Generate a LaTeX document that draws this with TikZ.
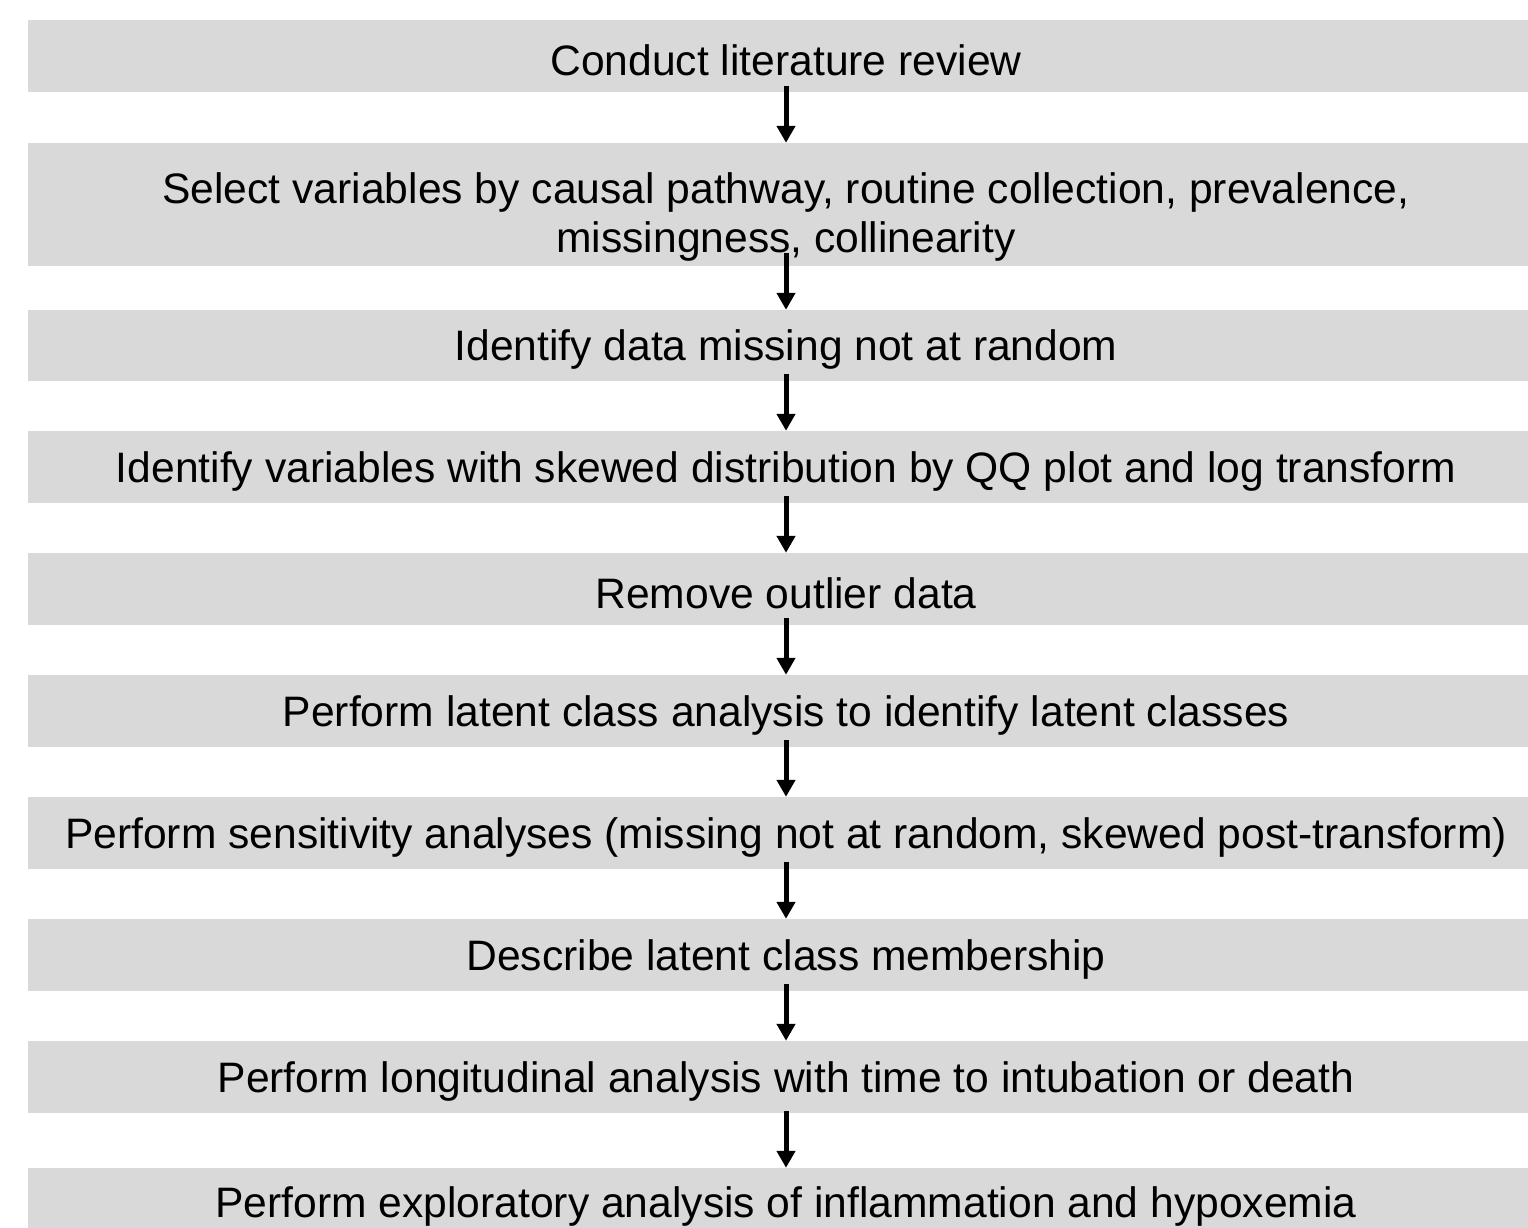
\documentclass[tikz,border=0pt]{standalone}
\usepackage{fontspec}
\setmainfont{Liberation Sans}
\usetikzlibrary{arrows.meta,calc}
\definecolor{boxgray}{RGB}{217,217,217}
\newcommand\lowtxt[2][4pt]{\raisebox{-#1}[\height][\depth]{#2}}
\begin{document}
\begin{tikzpicture}[x=1pt,y=-1pt,
  stepbox/.style={rectangle,fill=boxgray,draw=none,minimum width=1516pt,
    minimum height=72pt,inner sep=0pt,align=center,
    font=\fontsize{42.6}{49}\selectfont},
  arr/.style={-{Triangle[width=18pt,length=17pt]},line width=5pt,black}]
\clip (0,0) rectangle (1528,1227);
\fill[white] (0,0) rectangle (1528,1227);
\node[stepbox] (n1) at (786,56) {\lowtxt{Conduct literature review}};
\node[stepbox,minimum height=123pt] (n2) at (786,204.5) {\lowtxt[14pt]{\begin{tabular}{@{}c@{}}Select variables by causal pathway, routine collection, prevalence,\\missingness, collinearity\end{tabular}}};
\node[stepbox,minimum height=71pt] (n3) at (786,345.5) {\lowtxt{Identify data missing not at random}};
\node[stepbox] (n4) at (786,467) {\lowtxt{Identify variables with skewed distribution by QQ plot and log transform}};
\node[stepbox] (n5) at (786,589) {\lowtxt{Remove outlier data}};
\node[stepbox] (n6) at (786,711) {\lowtxt{Perform latent class analysis to identify latent classes}};
\node[stepbox] (n7) at (786,833) {\lowtxt{Perform sensitivity analyses (missing not at random, skewed post-transform)}};
\node[stepbox] (n8) at (786,955) {\lowtxt{Describe latent class membership}};
\node[stepbox] (n9) at (786,1077) {\lowtxt{Perform longitudinal analysis with time to intubation or death}};
\node[stepbox] (n10) at (786,1204) {\lowtxt[2pt]{Perform exploratory analysis of inflammation and hypoxemia}};
\foreach \a/\b in {n1/n2,n2/n3,n3/n4,n4/n5,n5/n6,n6/n7,n7/n8,n8/n9,n9/n10}{
  \draw[arr] ($(\b.north)!57pt!(\a.center)$) -- (\b.north);
}
\end{tikzpicture}
\end{document}
